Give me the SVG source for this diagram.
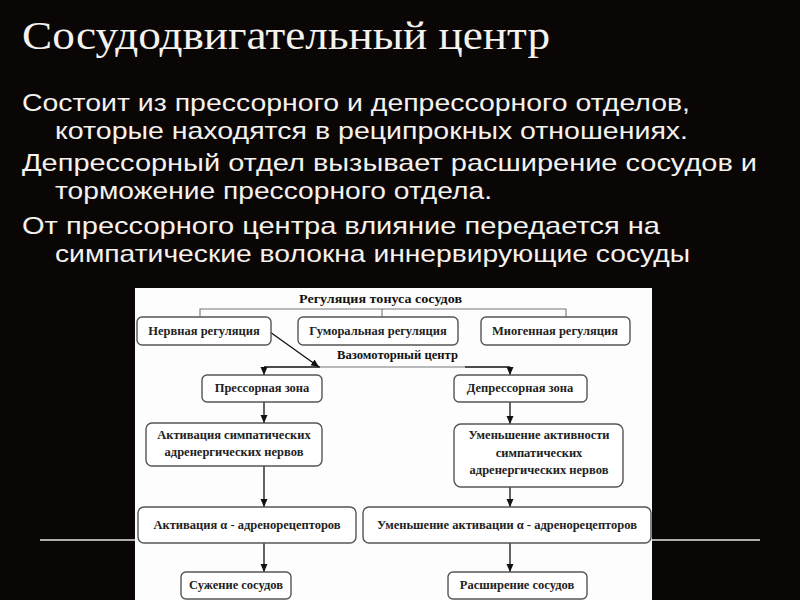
<svg xmlns="http://www.w3.org/2000/svg" width="800" height="600" viewBox="0 0 800 600">
<defs>
<style>
.slide-title{font-family:"Liberation Serif","DejaVu Serif",serif;font-size:41px;fill:#f4f2ee}
.body{font-family:"Liberation Sans",Arial,sans-serif;font-size:24px;fill:#f4f2ee}
.box{fill:#fff;stroke:#555;stroke-width:1.4}
.t{font-family:"Liberation Serif","Times New Roman",serif;font-size:12.5px;font-weight:bold;fill:#222;text-anchor:middle}
.h{font-family:"Liberation Serif","Times New Roman",serif;font-size:13.5px;font-weight:bold;fill:#111}
.ln{stroke:#111;stroke-width:1.3;fill:none}
.lnl{stroke:#777;stroke-width:1.1;fill:none}
</style>
<marker id="ah" markerUnits="userSpaceOnUse" markerWidth="8" markerHeight="8" viewBox="0 0 8 8" refX="8" refY="4" orient="auto">
<path d="M0,0.5 L8,4 L0,7.5 Z" fill="#111"/>
</marker>
</defs>
<rect x="0" y="0" width="800" height="600" fill="#0b0606"/>
<text class="slide-title" x="22" y="49" textLength="528" lengthAdjust="spacingAndGlyphs">Сосудодвигательный центр</text>
<text class="body" x="22" y="111" textLength="668" lengthAdjust="spacingAndGlyphs">Состоит из прессорного и депрессорного отделов,</text>
<text class="body" x="55" y="139" textLength="633" lengthAdjust="spacingAndGlyphs">которые находятся в реципрокных отношениях.</text>
<text class="body" x="22" y="171" textLength="735" lengthAdjust="spacingAndGlyphs">Депрессорный отдел вызывает расширение сосудов и</text>
<text class="body" x="55" y="199" textLength="437" lengthAdjust="spacingAndGlyphs">торможение прессорного отдела.</text>
<text class="body" x="22" y="234" textLength="638" lengthAdjust="spacingAndGlyphs">От прессорного центра влияние передается на</text>
<text class="body" x="55" y="262" textLength="635" lengthAdjust="spacingAndGlyphs">симпатические волокна иннервирующие сосуды</text>
<line x1="40" y1="540" x2="136" y2="540" stroke="#e8e4e0" stroke-width="1.5"/>
<line x1="652" y1="540" x2="760" y2="540" stroke="#e8e4e0" stroke-width="1.5"/>
<rect x="135" y="288" width="517" height="312" fill="#fdfdfd"/>
<g id="connectors">
<polyline class="lnl" points="200,317 200,309 566,309 566,317"/>
<line class="lnl" x1="382" y1="309" x2="382" y2="317"/>
<line class="ln" x1="264" y1="367" x2="320" y2="367"/>
<line class="lnl" x1="320" y1="367" x2="465" y2="367"/>
<line class="ln" x1="465" y1="367" x2="510" y2="367"/>
<line class="ln" x1="270" y1="332" x2="319" y2="367" marker-end="url(#ah)" stroke-width="1.6"/>
<line class="ln" x1="264" y1="367" x2="264" y2="375" marker-end="url(#ah)"/>
<line class="ln" x1="510" y1="367" x2="510" y2="375" marker-end="url(#ah)"/>
<line class="ln" x1="264" y1="402" x2="264" y2="423" marker-end="url(#ah)"/>
<line class="ln" x1="510" y1="402" x2="510" y2="424" marker-end="url(#ah)"/>
<line class="ln" x1="264" y1="466" x2="264" y2="507" marker-end="url(#ah)"/>
<line class="ln" x1="510" y1="487" x2="510" y2="507" marker-end="url(#ah)"/>
<line class="ln" x1="264" y1="543" x2="264" y2="572" marker-end="url(#ah)"/>
<line class="ln" x1="510" y1="543" x2="510" y2="572" marker-end="url(#ah)"/>
</g>
<g id="title-reg"><text class="h" x="299" y="303" textLength="163" lengthAdjust="spacingAndGlyphs">Регуляция тонуса сосудов</text></g>
<g id="vasomotor"><text class="h" x="337" y="359" textLength="121" lengthAdjust="spacingAndGlyphs">Вазомоторный центр</text></g>
<g id="nervous"><rect class="box" x="137" y="317" width="134" height="28" rx="5"/><text class="t" x="204" y="335">Нервная регуляция</text></g>
<g id="humoral"><rect class="box" x="298" y="317" width="160" height="28" rx="5"/><text class="t" x="378" y="335">Гуморальная регуляция</text></g>
<g id="myogenic"><rect class="box" x="481" y="317" width="149" height="28" rx="5"/><text class="t" x="555" y="335">Миогенная регуляция</text></g>
<g id="pressor"><rect class="box" x="202" y="375" width="120" height="27" rx="5"/><text class="t" x="262" y="392">Прессорная зона</text></g>
<g id="depressor"><rect class="box" x="454" y="375" width="133" height="27" rx="5"/><text class="t" x="520" y="392">Депрессорная зона</text></g>
<g id="act-symp"><rect class="box" x="146" y="423" width="176" height="43" rx="6"/><text class="t" x="234" y="439">Активация симпатических</text><text class="t" x="234" y="456">адренергических нервов</text></g>
<g id="dec-symp"><rect class="box" x="454" y="424" width="169" height="63" rx="7"/><text class="t" x="539" y="439">Уменьшение активности</text><text class="t" x="539" y="457">симпатических</text><text class="t" x="539" y="474">адренергических нервов</text></g>
<g id="act-alpha"><rect class="box" x="138" y="507" width="218" height="36" rx="6"/><text class="t" x="247" y="529">Активация α - адренорецепторов</text></g>
<g id="dec-alpha"><rect class="box" x="363" y="507" width="288" height="36" rx="6"/><text class="t" x="507" y="529">Уменьшение активации α - адренорецепторов</text></g>
<g id="constrict"><rect class="box" x="181" y="572" width="110" height="27" rx="5"/><text class="t" x="236" y="589">Сужение сосудов</text></g>
<g id="dilate"><rect class="box" x="448" y="572" width="139" height="27" rx="5"/><text class="t" x="517" y="589">Расширение сосудов</text></g>
</svg>
